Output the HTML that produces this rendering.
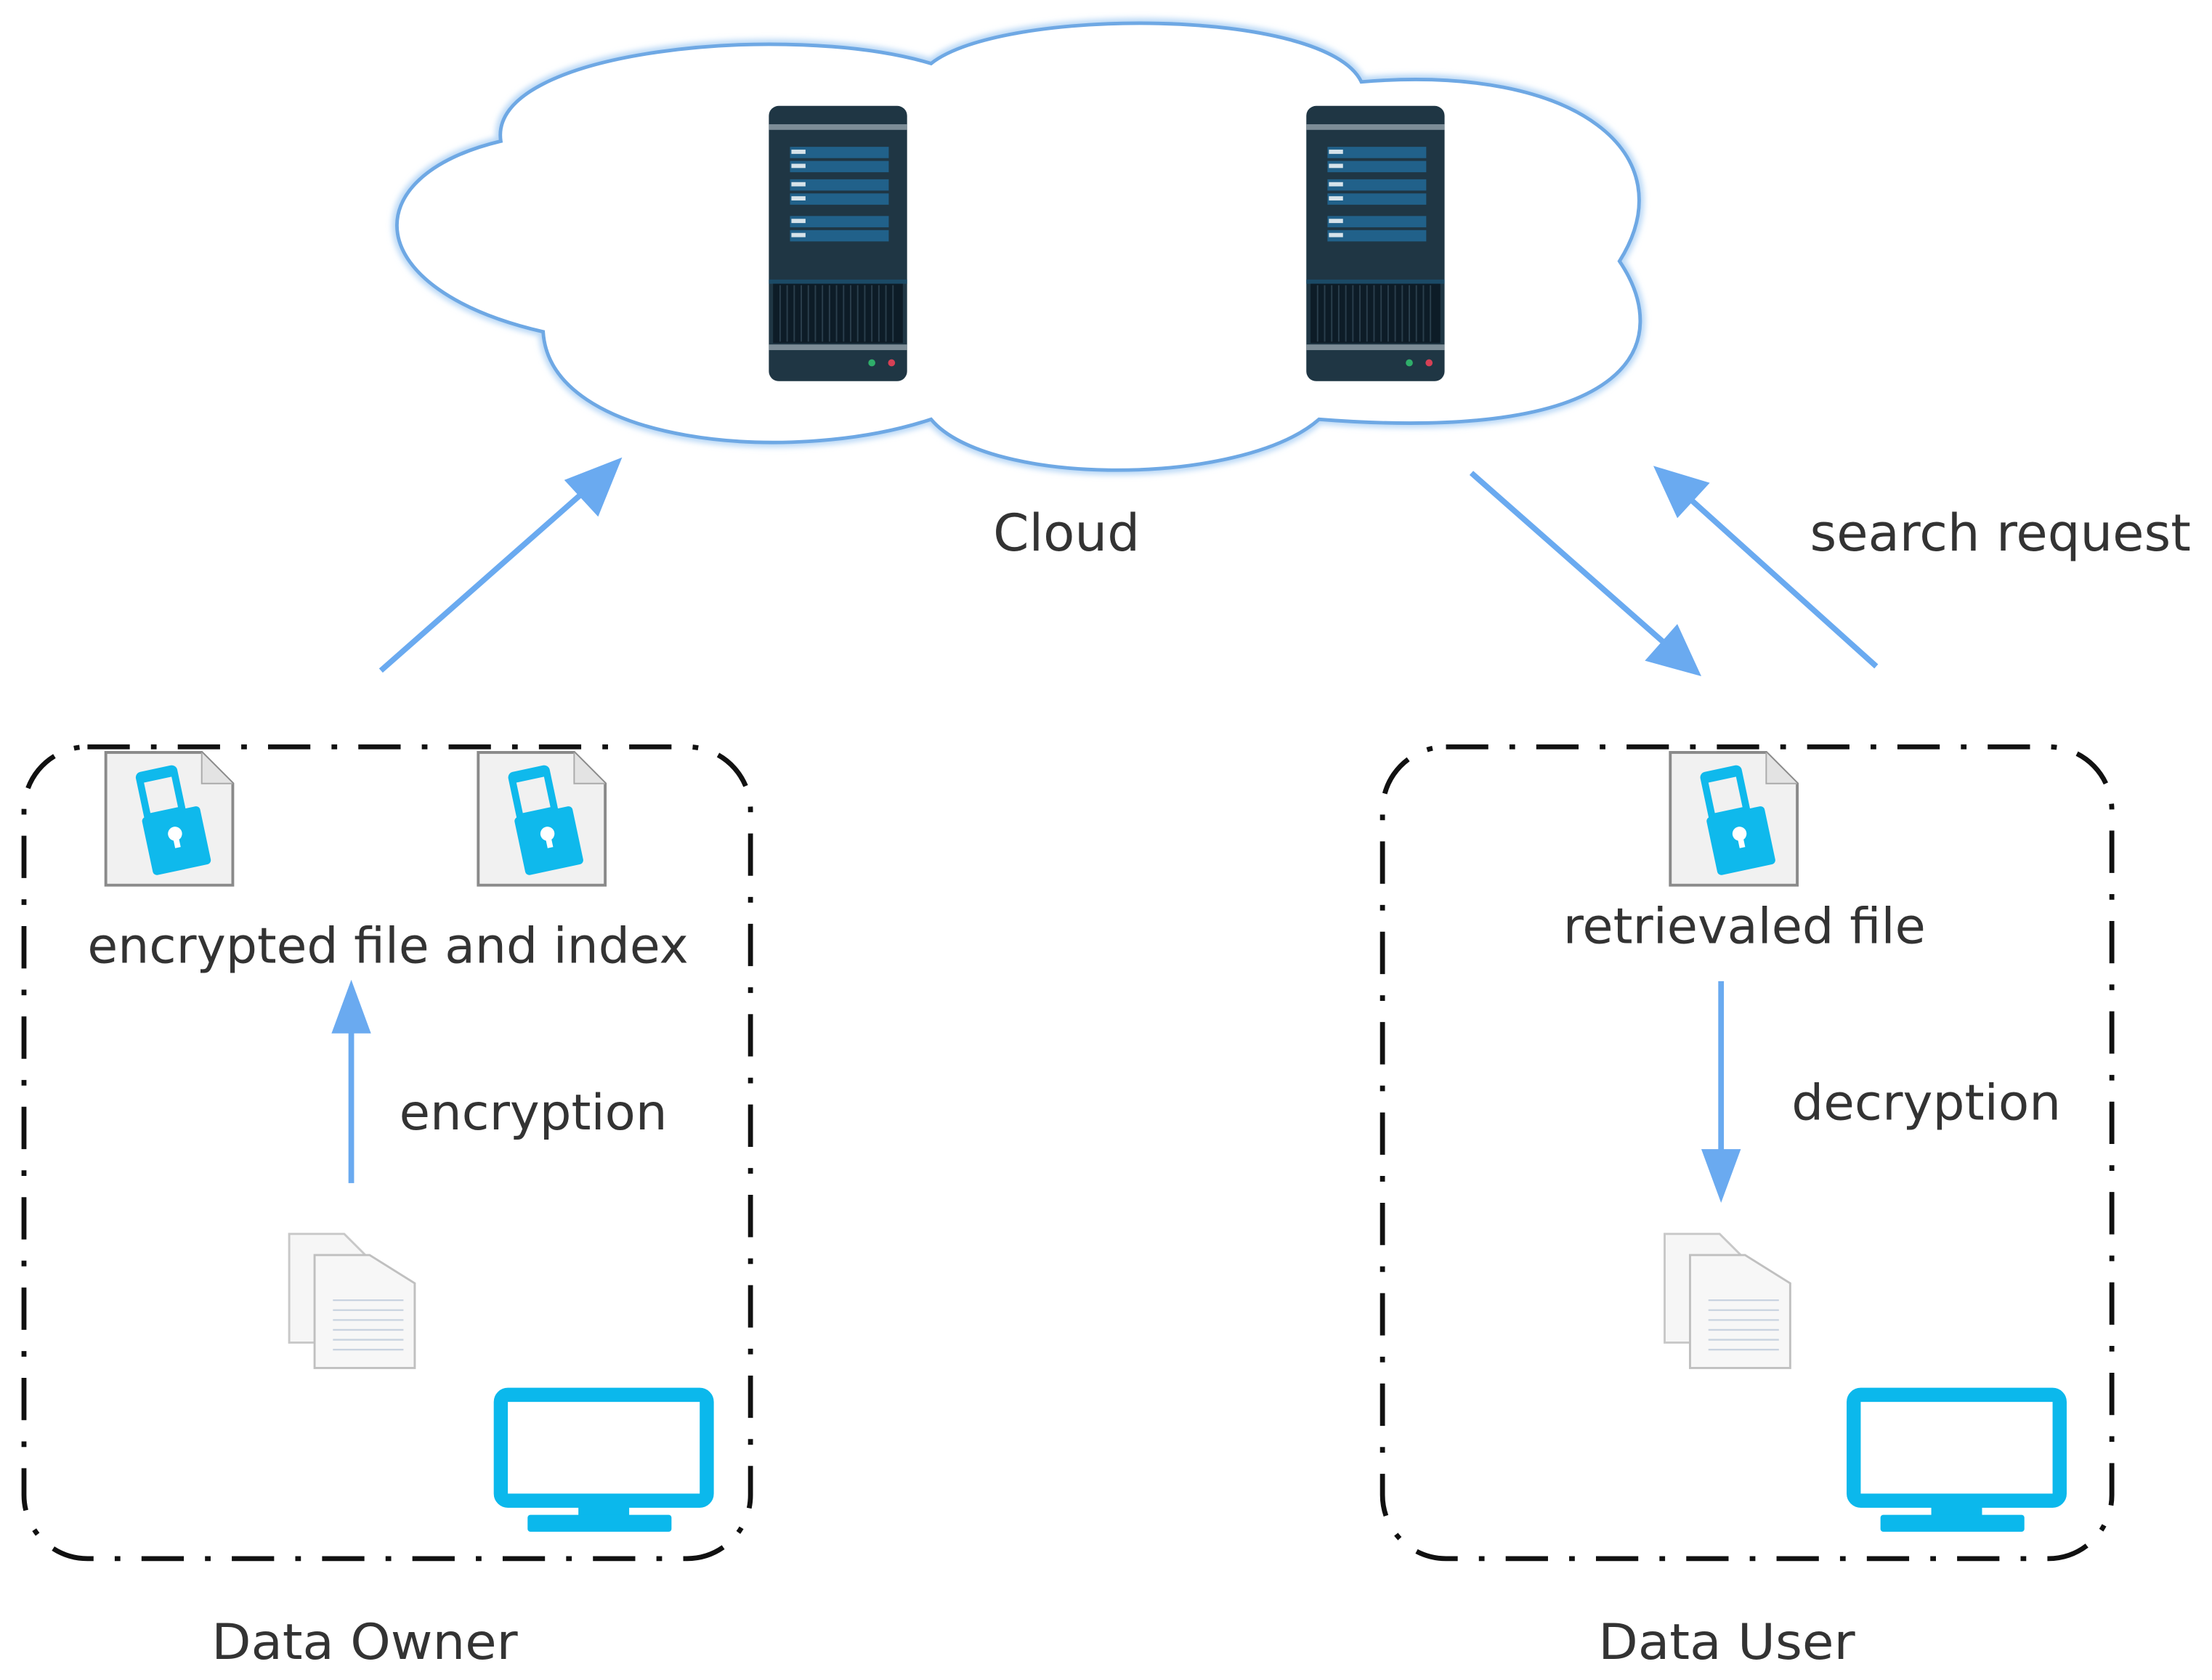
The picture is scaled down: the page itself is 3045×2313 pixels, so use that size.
<!DOCTYPE html>
<html><head><meta charset="utf-8"><style>
html,body{margin:0;padding:0;background:#fff;width:3045px;height:2313px;overflow:hidden}
svg{display:block}
text{font-family:"DejaVu Sans","Liberation Sans",sans-serif;fill:#333}
</style></head><body>
<svg width="3045" height="2313" viewBox="0 0 1568 1190" preserveAspectRatio="none" xmlns="http://www.w3.org/2000/svg">
<defs>
<g id="server">
 <rect x="0" y="0" width="98" height="195" rx="7" fill="#1f3644"/>
 <rect x="0" y="13" width="98" height="4" fill="#7d8d97"/>
 <g fill="#21618a">
  <rect x="15" y="29" width="70" height="8"/><rect x="15" y="39" width="70" height="8"/>
  <rect x="15" y="52" width="70" height="8"/><rect x="15" y="62" width="70" height="8"/>
  <rect x="15" y="78" width="70" height="8"/><rect x="15" y="88" width="70" height="8"/>
 </g>
 <g fill="#d6e3ea">
  <rect x="16" y="31" width="10" height="3"/><rect x="16" y="41" width="10" height="3"/>
  <rect x="16" y="54" width="10" height="3"/><rect x="16" y="64" width="10" height="3"/>
  <rect x="16" y="80" width="10" height="3"/><rect x="16" y="90" width="10" height="3"/>
 </g>
 <rect x="0" y="123" width="98" height="3" fill="#1b4a66"/>
 <rect x="3" y="126" width="92" height="42" fill="#0d1c27"/>
 <g stroke="#2a3e4c" stroke-width="1">
  <path d="M8 127V167M13 127V167M18 127V167M23 127V167M28 127V167M33 127V167M38 127V167M43 127V167M48 127V167M53 127V167M58 127V167M63 127V167M68 127V167M73 127V167M78 127V167M83 127V167M88 127V167"/>
 </g>
 <rect x="0" y="169" width="98" height="4" fill="#7d8d97"/>
 <circle cx="73" cy="182" r="2.5" fill="#2fae6a"/><circle cx="87" cy="182" r="2.5" fill="#d64055"/>
</g>
<g id="efile">
 <path d="M2 2H70L92 24V96H2Z" fill="#f1f1f1" stroke="#8a8a8a" stroke-width="2"/>
 <path d="M70 2V24H92" fill="#e3e3e3" stroke="#aaa" stroke-width="1"/>
 <g transform="rotate(-12 48 50)">
  <rect x="30" y="12" width="30" height="36" rx="4" fill="#0fb9ec"/>
  <rect x="35" y="20" width="20" height="22" fill="#f1f1f1"/>
  <rect x="28" y="44" width="42" height="42" rx="3" fill="#0fb9ec"/>
  <circle cx="49" cy="60" r="5" fill="#fff"/><rect x="47" y="60" width="4" height="10" fill="#fff"/>
 </g>
</g>
<g id="doc">
 <path d="M1 1H40L58 19V78H1Z" fill="#f6f6f6" stroke="#c8c8c8" stroke-width="1.5"/>
 <path d="M19 16H58L90 36V96H19Z" fill="#f7f7f7" stroke="#c0c0c0" stroke-width="1.5"/>
 <g stroke="#c9d3e0" stroke-width="1.2"><path d="M32 48H82M32 55H82M32 62H82M32 69H82M32 76H82M32 83H82"/></g>
</g>
<g id="mon">
 <rect x="3" y="3" width="146" height="75" rx="5" fill="none" stroke="#0bb8ec" stroke-width="10"/>
 <rect x="58" y="78" width="36" height="12" fill="#0bb8ec"/>
 <rect x="22" y="88" width="102" height="12" rx="2" fill="#0bb8ec"/>
</g>
<filter id="glow" x="-5%" y="-5%" width="110%" height="110%"><feGaussianBlur stdDeviation="2"/></filter>
</defs>

<path d="M355,100 C345,35 560,15 660,45 C710,5 940,5 965,58 C1120,45 1195,110 1148,185 C1185,240 1165,315 935,297 C880,345 700,345 660,297 C560,330 390,315 385,235 C255,205 250,125 355,100 Z" fill="none" stroke="#b9d8f6" stroke-width="7" filter="url(#glow)"/>
<path d="M355,100 C345,35 560,15 660,45 C710,5 940,5 965,58 C1120,45 1195,110 1148,185 C1185,240 1165,315 935,297 C880,345 700,345 660,297 C560,330 390,315 385,235 C255,205 250,125 355,100 Z" fill="#fff" stroke="#6ea8e4" stroke-width="2.5"/>

<use href="#server" x="545" y="75"/>
<use href="#server" x="926" y="75"/>

<g stroke="#6aaaf0" stroke-width="4" fill="#6aaaf0">
 <line x1="270" y1="475" x2="420" y2="343"/>
 <polygon points="441,324 400,340 424,366" stroke="none"/>
 <line x1="1043" y1="335" x2="1185" y2="460"/>
 <polygon points="1206,479 1166,468 1189,442" stroke="none"/>
 <line x1="1330" y1="472" x2="1192" y2="348"/>
 <polygon points="1172,330 1212,342 1189,367" stroke="none"/>
 <line x1="249" y1="838" x2="249" y2="725"/>
 <polygon points="249,694 235,732 263,732" stroke="none"/>
 <line x1="1220" y1="695" x2="1220" y2="820"/>
 <polygon points="1220,852 1206,814 1234,814" stroke="none"/>
</g>

<text x="704" y="390" font-size="36" textLength="104" lengthAdjust="spacingAndGlyphs">Cloud</text>
<text x="1283" y="390" font-size="36" textLength="270" lengthAdjust="spacingAndGlyphs">search request</text>

<g fill="none" stroke="#111" stroke-width="3.5" stroke-dasharray="30 15 4 15">
 <rect x="17" y="529" width="515" height="575" rx="45"/>
 <rect x="980" y="529" width="517" height="575" rx="45"/>
</g>

<use href="#efile" x="73" y="531"/>
<use href="#efile" x="337" y="531"/>
<use href="#efile" x="1182" y="531"/>

<text x="62" y="682" font-size="35" textLength="426" lengthAdjust="spacingAndGlyphs">encrypted file and index</text>
<text x="1108" y="668" font-size="35" textLength="257" lengthAdjust="spacingAndGlyphs">retrievaled file</text>
<text x="283" y="800" font-size="35" textLength="190" lengthAdjust="spacingAndGlyphs">encryption</text>
<text x="1270" y="793" font-size="35" textLength="191" lengthAdjust="spacingAndGlyphs">decryption</text>

<use href="#doc" x="204" y="873"/>
<use href="#doc" x="1179" y="873"/>

<use href="#mon" x="352" y="985"/>
<use href="#mon" x="1311" y="985"/>

<text x="150" y="1175" font-size="35" textLength="217" lengthAdjust="spacingAndGlyphs">Data Owner</text>
<text x="1133" y="1175" font-size="35" textLength="182" lengthAdjust="spacingAndGlyphs">Data User</text>
</svg>
</body></html>
